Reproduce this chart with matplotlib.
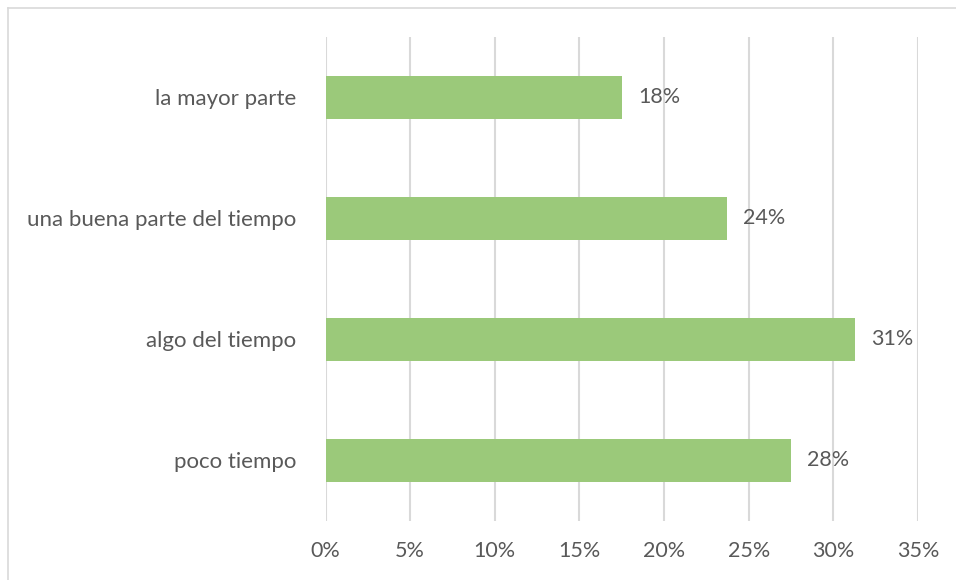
import matplotlib
matplotlib.use("Agg")
import matplotlib.pyplot as plt
from matplotlib.lines import Line2D

# Survey answers (bottom to top) and their share in percent
categories = ["poco tiempo", "algo del tiempo", "una buena parte del tiempo", "la mayor parte"]
values = [27.5, 31.3, 23.7, 17.5]
xticks = [0, 5, 10, 15, 20, 25, 30, 35]

bar_color = "#9BC97A"
grid_color = "#D9D9D9"
text_color = "#595959"

plt.rcParams["font.family"] = ["Lato", "DejaVu Sans"]

W, H = 956, 580
fig = plt.figure(figsize=(W / 100, H / 100), dpi=100)
ax = fig.add_axes([325.5 / W, 1 - 520.5 / H, (918 - 325.5) / W, (520.5 - 37) / H])

ypos = list(range(len(categories)))
bars = ax.barh(ypos, values, height=0.355, color=bar_color, zorder=3)

for y, v in zip(ypos, values):
    ax.text(v + 0.95, y, f"{v:.0f}%", va="center", ha="left",
            fontsize=15.5, color=text_color)

ax.set_xlim(0, 35)
ax.set_ylim(-0.5, len(categories) - 0.5)
ax.set_xticks(xticks)
ax.set_xticklabels([f"{t}%" for t in xticks])
ax.set_yticks(ypos)
ax.set_yticklabels(categories)

ax.tick_params(axis="both", length=0, labelcolor=text_color)
ax.tick_params(axis="y", pad=21, labelsize=16)
ax.tick_params(axis="x", pad=15, labelsize=15.5)

ax.xaxis.grid(True, color=grid_color, linewidth=1.5, zorder=0)
ax.yaxis.grid(False)
for s in ax.spines.values():
    s.set_visible(False)
ax.set_facecolor("white")

# Chart area frame (top and left edges)
fig.add_artist(Line2D([7.5 / W, 1], [1 - 7.5 / H, 1 - 7.5 / H],
                      transform=fig.transFigure, color=grid_color, linewidth=1.2))
fig.add_artist(Line2D([7.5 / W, 7.5 / W], [0, 1 - 7.5 / H],
                      transform=fig.transFigure, color=grid_color, linewidth=1.2))

fig.savefig("out.png", dpi=100, facecolor="white")
